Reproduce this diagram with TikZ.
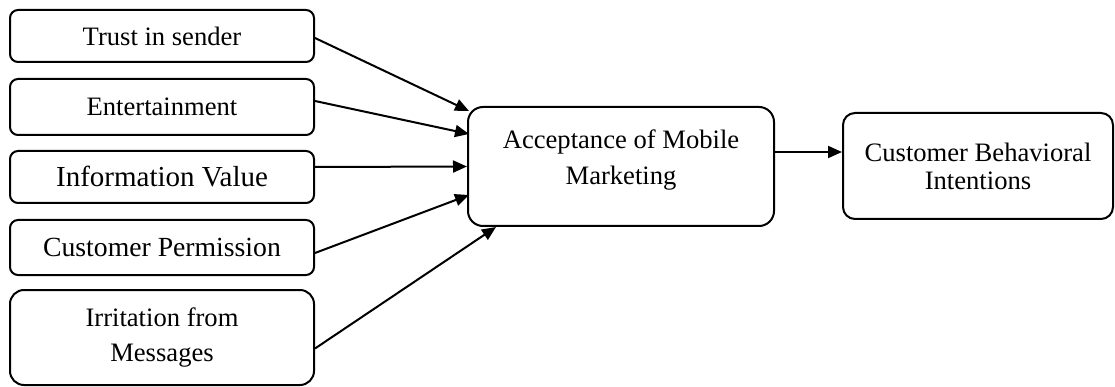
\documentclass[tikz,border=0pt]{standalone}
\usepackage{fontspec}
\setmainfont{Liberation Serif}
\usetikzlibrary{arrows.meta,calc}
\begin{document}
\begin{tikzpicture}[x=1pt,y=-1pt,
  box/.style={draw, line width=2pt, rounded corners=8pt, align=center, inner sep=0pt},
  arr/.style={-{Triangle[length=14pt,width=12pt]}, line width=2pt},
  fA/.style={font=\fontsize{26.6}{28}\selectfont}]
\useasboundingbox (0,0) rectangle (1115,387);

\node[box, fA, minimum width=304pt, minimum height=52pt] (t1) at (162,36) {Trust in sender};
\node[box, fA, minimum width=304pt, minimum height=56pt] (t2) at (162,107) {Entertainment};
\node[box, font=\fontsize{29}{31}\selectfont, minimum width=304pt, minimum height=52pt] (t3) at (162,177) {Information Value};
\node[box, font=\fontsize{27.7}{30}\selectfont, minimum width=304pt, minimum height=55pt] (t4) at (162,247.5) {Customer Permission};
\node[box, font=\fontsize{26.6}{35}\selectfont, rounded corners=14pt, minimum width=304pt, minimum height=95pt] (t5) at (162,337.5) {Irritation from\\Messages};

\node[box, rounded corners=15pt, minimum width=306pt, minimum height=119pt] (acc) at (621,166.5) {};
\node[font=\fontsize{26.6}{36}\selectfont, align=center, inner sep=0pt] (acct) at (621,160) {Acceptance of Mobile\\Marketing};

\node[box, font=\fontsize{26.6}{28}\selectfont, rounded corners=12pt, minimum width=270pt, minimum height=106pt] (cbi) at (978,166) {Customer Behavioral\\Intentions};

\draw[arr] ($(t1.east)+(0,2)$) -- ($(acc.north west)+(2,5)$);
\draw[arr] ($(t2.east)+(0,-6)$) -- ($(acc.west)+(2,-32.5)$);
\draw[arr] ($(t3.east)+(0,-10)$) -- (acc.west);
\draw[arr] ($(t4.east)+(0,5.5)$) -- ($(acc.west)+(2,28.5)$);
\draw[arr] ($(t5.east)+(0,11)$) -- ($(acc.south west)+(29,0)$);
\draw[arr] ($(acc.east)+(0,-14.5)$) -- ($(cbi.west)+(0,-14)$);
\end{tikzpicture}
\end{document}
